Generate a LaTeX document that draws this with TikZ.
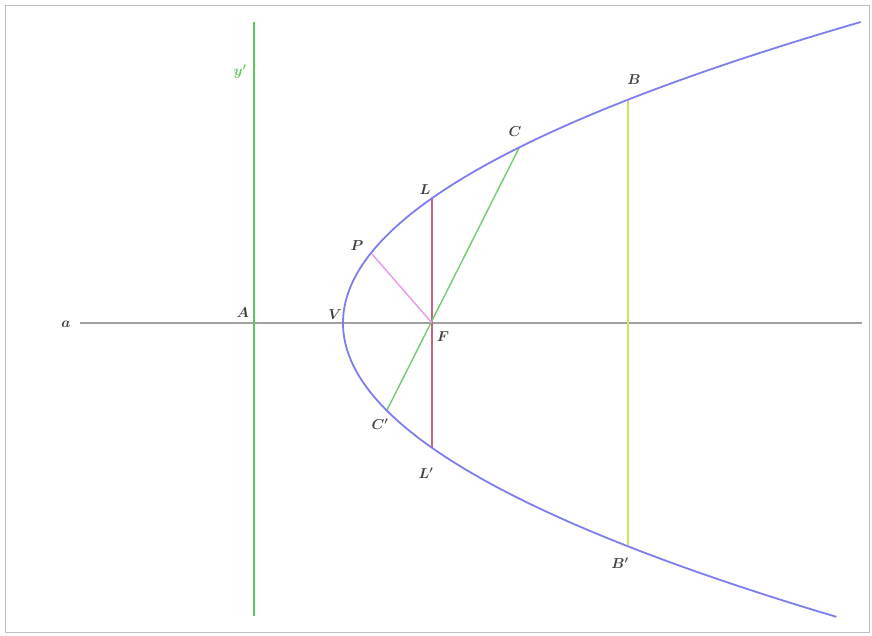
\documentclass[tikz,border=0pt]{standalone}
\begin{document}
\begin{tikzpicture}[x=1pt,y=-1pt,
  lbl/.style={font=\Large\boldmath, text=black!75, inner sep=0pt},
  curve/.style={draw={rgb,255:red,125;green,125;blue,240}, line width=1.8pt},
  seg/.style={line width=1.4pt}]
\definecolor{dirgreen}{RGB}{90,200,90}
\definecolor{axisgray}{RGB}{160,160,160}
\definecolor{latus}{RGB}{205,95,130}
\definecolor{chord}{RGB}{110,205,110}
\definecolor{pinkline}{RGB}{235,150,235}
\definecolor{yel}{RGB}{205,230,90}
\useasboundingbox (0,0) rectangle (872,635);
\draw[black!25, line width=1pt] (5,5) rectangle (869,632);
% points
\coordinate (A) at (254,323);
\coordinate (V) at (343,323);
\coordinate (F) at (432,323);
\coordinate (L) at (432,198);
\coordinate (Lp) at (432,448);
\coordinate (C) at (519,148);
\coordinate (Cp) at (387,410);
\coordinate (P) at (372,254);
\coordinate (B) at (628,100);
\coordinate (Bp) at (628,545);
\coordinate (ax1) at (80,323);
\coordinate (ax2) at (862,323);
\coordinate (d1) at (254,22);
\coordinate (d2) at (254,616);
% axis and directrix
\draw[axisgray, seg] (ax1) -- (ax2);
\draw[dirgreen, line width=1.6pt] (d1) -- (d2);
% segments
\draw[latus, seg] (L) -- (Lp);
\draw[chord, seg] (C) -- (Cp);
\draw[pinkline, seg] (P) -- (F);
\draw[yel, seg] (B) -- (Bp);
% parabola
\draw[curve] plot[domain=-3.01:2.94, samples=120, smooth] ({343+57.143*\x*\x},{323+100*\x});
% labels
\node[lbl, text=dirgreen] (ly) at (240,72) {$y'$};
\node[lbl] (la) at (66,324) {$a$};
\node[lbl] (lA) at (243,313) {$A$};
\node[lbl] (lV) at (335,315) {$V$};
\node[lbl] (lF) at (443,337) {$F$};
\node[lbl] (lL) at (425,190) {$L$};
\node[lbl] (lP) at (357,246) {$P$};
\node[lbl] (lC) at (515,132) {$C$};
\node[lbl] (lCp) at (380,424) {$C'$};
\node[lbl] (lLp) at (426,473) {$L'$};
\node[lbl] (lB) at (634,80) {$B$};
\node[lbl] (lBp) at (620,563) {$B'$};
\end{tikzpicture}
\end{document}
